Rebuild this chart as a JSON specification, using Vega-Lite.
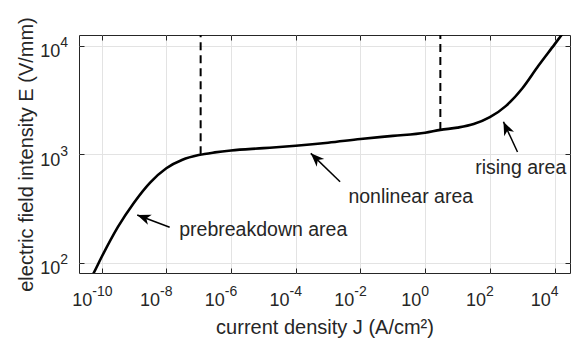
{
  "$schema": "https://vega.github.io/schema/vega-lite/v6.json",
  "width": 491,
  "height": 238,
  "autosize": {"type": "none"},
  "padding": {"left": 79, "top": 35, "right": 1, "bottom": 72},
  "background": "white",
  "config": {
    "font": "Liberation Sans",
    "view": {"stroke": "#262626", "strokeWidth": 1},
    "axis": {
      "labelFont": "Liberation Sans",
      "titleFont": "Liberation Sans",
      "labelColor": "#262626",
      "titleColor": "#262626",
      "titleFontWeight": "normal",
      "domain": false,
      "tickColor": "#262626",
      "gridColor": "#e3e3e3",
      "gridWidth": 1
    }
  },
  "datasets": {
    "curve": [
      {"J": 4.5e-11, "E": 71},
      {"J": 5.62e-11, "E": 80.4},
      {"J": 1e-10, "E": 113.5},
      {"J": 3.16e-10, "E": 213.8},
      {"J": 1e-9, "E": 358.9},
      {"J": 3.16e-9, "E": 549.5},
      {"J": 1e-8, "E": 744.7},
      {"J": 3.16e-8, "E": 891.3},
      {"J": 1e-7, "E": 984},
      {"J": 3.16e-7, "E": 1042},
      {"J": 1e-6, "E": 1086},
      {"J": 1e-5, "E": 1140},
      {"J": 1e-4, "E": 1200},
      {"J": 1e-3, "E": 1279},
      {"J": 1e-2, "E": 1383},
      {"J": 0.1, "E": 1479},
      {"J": 1, "E": 1581},
      {"J": 2.95, "E": 1679},
      {"J": 10, "E": 1762},
      {"J": 31.6, "E": 1901},
      {"J": 100, "E": 2198},
      {"J": 316, "E": 2793},
      {"J": 1000, "E": 4036},
      {"J": 3162, "E": 6531},
      {"J": 10000, "E": 10280},
      {"J": 31620, "E": 16300}
    ],
    "dashes": [
      {"J": 1.15e-7, "E": 1000},
      {"J": 2.95, "E": 1679}
    ],
    "arrows": [
      {"name": "pre", "tipJ": 1.26e-9, "tipE": 276.7, "tailJ": 1.27e-8, "tailE": 213},
      {"name": "non", "tipJ": 2.92e-4, "tipE": 1021, "tailJ": 2.35e-3, "tailE": 560},
      {"name": "rise", "tipJ": 263, "tipE": 1994, "tailJ": 716, "tailE": 1050}
    ],
    "notes": [
      {"text": "prebreakdown area", "J": 2.51e-8, "E": 177},
      {"text": "nonlinear area", "J": 4.25e-3, "E": 353},
      {"text": "rising area", "J": 35.2, "E": 659}
    ],
    "xlabels": [
      {"J": 1e-10, "exp": "-10"},
      {"J": 1e-8, "exp": "-8"},
      {"J": 1e-6, "exp": "-6"},
      {"J": 1e-4, "exp": "-4"},
      {"J": 1e-2, "exp": "-2"},
      {"J": 1, "exp": "0"},
      {"J": 100, "exp": "2"},
      {"J": 10000, "exp": "4"}
    ],
    "ylabels": [
      {"E": 100, "exp": "2"},
      {"E": 1000, "exp": "3"},
      {"E": 10000, "exp": "4"}
    ]
  },
  "layer": [
    {
      "data": {"name": "curve"},
      "mark": {"type": "line", "color": "#000000", "strokeWidth": 2.6, "interpolate": "monotone", "clip": true},
      "encoding": {
        "x": {
          "field": "J", "type": "quantitative",
          "scale": {"type": "log", "domain": [2.0e-11, 3.0e4], "nice": false},
          "axis": {
            "orient": "bottom",
            "values": [1e-10, 1e-8, 1e-6, 1e-4, 1e-2, 1, 100, 10000],
            "labels": false,
            "grid": true,
            "ticks": true,
            "tickSize": -5,
            "title": "current density J (A/cm²)",
            "titleFontSize": 20,
            "titlePadding": 44
          }
        },
        "y": {
          "field": "E", "type": "quantitative",
          "scale": {"type": "log", "domain": [80.9, 12540], "nice": false},
          "axis": {
            "orient": "left",
            "values": [100, 1000, 10000],
            "labels": false,
            "grid": true,
            "ticks": true,
            "tickSize": -5,
            "title": "electric field intensity E (V/mm)",
            "titleFontSize": 20,
            "titlePadding": 42
          }
        }
      }
    },
    {
      "data": {"name": "curve"},
      "mark": {"type": "line", "strokeOpacity": 0},
      "encoding": {
        "x": {
          "field": "J", "type": "quantitative",
          "axis": {
            "orient": "top",
            "values": [1e-10, 1e-8, 1e-6, 1e-4, 1e-2, 1, 100, 10000],
            "labels": false, "grid": false, "ticks": true, "tickSize": -5, "title": null
          }
        },
        "y": {
          "field": "E", "type": "quantitative",
          "axis": {
            "orient": "right",
            "values": [100, 1000, 10000],
            "labels": false, "grid": false, "ticks": true, "tickSize": -5, "title": null
          }
        }
      }
    },
    {
      "data": {"name": "dashes"},
      "mark": {"type": "rule", "color": "#000000", "strokeWidth": 2, "strokeDash": [8, 5]},
      "encoding": {
        "x": {"field": "J", "type": "quantitative", "axis": null},
        "y": {"field": "E", "type": "quantitative", "axis": null},
        "y2": {"datum": 12540}
      }
    },
    {
      "data": {"name": "arrows"},
      "mark": {"type": "rule", "color": "#000000", "strokeWidth": 1.5},
      "encoding": {
        "x": {"field": "tailJ", "type": "quantitative", "axis": null},
        "y": {"field": "tailE", "type": "quantitative", "axis": null},
        "x2": {"field": "tipJ"},
        "y2": {"field": "tipE"}
      }
    },
    {
      "data": {"name": "arrows"},
      "transform": [{"filter": "datum.name == 'pre'"}],
      "mark": {"type": "point", "shape": "M0,0 L-1,-0.4 L-0.72,0 L-1,0.4 Z", "filled": true, "color": "#000000", "opacity": 1, "size": 729, "angle": 200.8},
      "encoding": {
        "x": {"field": "tipJ", "type": "quantitative", "axis": null},
        "y": {"field": "tipE", "type": "quantitative", "axis": null}
      }
    },
    {
      "data": {"name": "arrows"},
      "transform": [{"filter": "datum.name == 'non'"}],
      "mark": {"type": "point", "shape": "M0,0 L-1,-0.4 L-0.72,0 L-1,0.4 Z", "filled": true, "color": "#000000", "opacity": 1, "size": 729, "angle": 224.1},
      "encoding": {
        "x": {"field": "tipJ", "type": "quantitative", "axis": null},
        "y": {"field": "tipE", "type": "quantitative", "axis": null}
      }
    },
    {
      "data": {"name": "arrows"},
      "transform": [{"filter": "datum.name == 'rise'"}],
      "mark": {"type": "point", "shape": "M0,0 L-1,-0.4 L-0.72,0 L-1,0.4 Z", "filled": true, "color": "#000000", "opacity": 1, "size": 729, "angle": 245.2},
      "encoding": {
        "x": {"field": "tipJ", "type": "quantitative", "axis": null},
        "y": {"field": "tipE", "type": "quantitative", "axis": null}
      }
    },
    {
      "data": {"name": "notes"},
      "mark": {"type": "text", "align": "left", "baseline": "alphabetic", "font": "Liberation Sans", "fontSize": 19.5, "color": "#262626"},
      "encoding": {
        "x": {"field": "J", "type": "quantitative", "axis": null},
        "y": {"field": "E", "type": "quantitative", "axis": null},
        "text": {"field": "text"}
      }
    },
    {
      "data": {"name": "xlabels"},
      "transform": [{"filter": "length(datum.exp) == 3"}],
      "layer": [
        {"mark": {"type": "text", "text": "10", "align": "right", "baseline": "alphabetic", "fontSize": 18, "font": "Liberation Sans", "color": "#262626", "dx": -9.3, "dy": 33, "clip": false}},
        {"mark": {"type": "text", "align": "left", "baseline": "alphabetic", "fontSize": 14, "font": "Liberation Sans", "color": "#262626", "dx": -9.3, "dy": 23, "clip": false},
         "encoding": {"text": {"field": "exp"}}}
      ],
      "encoding": {
        "x": {"field": "J", "type": "quantitative", "axis": null},
        "y": {"datum": 80.9, "type": "quantitative", "axis": null}
      }
    },
    {
      "data": {"name": "xlabels"},
      "transform": [{"filter": "length(datum.exp) == 2"}],
      "layer": [
        {"mark": {"type": "text", "text": "10", "align": "right", "baseline": "alphabetic", "fontSize": 18, "font": "Liberation Sans", "color": "#262626", "dx": -6.2, "dy": 33, "clip": false}},
        {"mark": {"type": "text", "align": "left", "baseline": "alphabetic", "fontSize": 14, "font": "Liberation Sans", "color": "#262626", "dx": -6.2, "dy": 23, "clip": false},
         "encoding": {"text": {"field": "exp"}}}
      ],
      "encoding": {
        "x": {"field": "J", "type": "quantitative", "axis": null},
        "y": {"datum": 80.9, "type": "quantitative", "axis": null}
      }
    },
    {
      "data": {"name": "xlabels"},
      "transform": [{"filter": "length(datum.exp) == 1"}],
      "layer": [
        {"mark": {"type": "text", "text": "10", "align": "right", "baseline": "alphabetic", "fontSize": 18, "font": "Liberation Sans", "color": "#262626", "dx": -3.9, "dy": 33, "clip": false}},
        {"mark": {"type": "text", "align": "left", "baseline": "alphabetic", "fontSize": 14, "font": "Liberation Sans", "color": "#262626", "dx": -3.9, "dy": 23, "clip": false},
         "encoding": {"text": {"field": "exp"}}}
      ],
      "encoding": {
        "x": {"field": "J", "type": "quantitative", "axis": null},
        "y": {"datum": 80.9, "type": "quantitative", "axis": null}
      }
    },
    {
      "data": {"name": "ylabels"},
      "layer": [
        {"mark": {"type": "text", "text": "10", "align": "right", "baseline": "alphabetic", "fontSize": 18, "font": "Liberation Sans", "color": "#262626", "dx": -18.8, "dy": 11.5, "clip": false}},
        {"mark": {"type": "text", "align": "left", "baseline": "alphabetic", "fontSize": 14, "font": "Liberation Sans", "color": "#262626", "dx": -18.8, "dy": 1.5, "clip": false},
         "encoding": {"text": {"field": "exp"}}}
      ],
      "encoding": {
        "x": {"datum": 2.0e-11, "type": "quantitative", "axis": null},
        "y": {"field": "E", "type": "quantitative", "axis": null}
      }
    }
  ],
  "resolve": {"axis": {"x": "independent", "y": "independent"}}
}
